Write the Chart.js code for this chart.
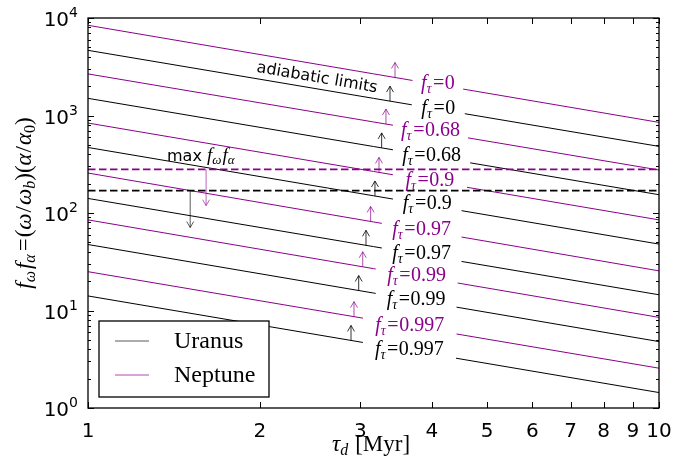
<!DOCTYPE html>
<html>
<head>
<meta charset="utf-8">
<script src="https://cdn.jsdelivr.net/npm/chart.js@4.4.1/dist/chart.umd.min.js"></script>
<style>
  html, body { margin: 0; padding: 0; background: #fff; }
  canvas { display: block; }
</style>
</head>
<body>
<canvas id="tauChart" width="688" height="464"></canvas>
<script>
const fTau = ["0", "0.68", "0.9", "0.97", "0.99", "0.997"];
const tauEnds = [1, 10];
const uranusStart = [4660, 1500, 470, 141, 47.5, 14.1];
const uranusEnd = [482, 154, 48, 14.5, 4.8, 1.44];
const neptuneStart = [8420, 2670, 837, 257, 85, 25];
const neptuneEnd = [850, 276, 85, 25.5, 8.5, 2.56];
// each line is broken where its label sits
const uranusGap = [[3.69, 4.57], [3.42, 4.67], [3.42, 4.51], [3.27, 4.51], [3.19, 4.42], [3.03, 4.41]];
const neptuneGap = [[3.70, 4.54], [3.42, 4.63], [3.42, 4.61], [3.27, 4.51], [3.19, 4.44], [3.03, 4.42]];
// adiabatic limit arrows, tau where they leave each line
const uranusArrowTau = [3.38, 3.268, 3.181, 3.068, 2.979, 2.888];
const neptuneArrowTau = [3.449, 3.325, 3.233, 3.126, 3.028, 2.923];
const maxUranus = 170;
const maxNeptune = 280;
const maxArrowTau = [1.51, 1.61];
const maxArrowEnd = [71, 119];
const xTicks = [1, 2, 3, 4, 5, 6, 7, 8, 9, 10];
const yDecades = [0, 1, 2, 3, 4];

const BLACK = "#000000";
const PURPLE = "#8b008b";
const SERIF = '"Liberation Serif", "Times New Roman", serif';
const SANS = '"DejaVu Sans", sans-serif';

const lineSet = (start, end, gap, color, name, i, arrowTau) => ({
  label: name,
  data: [{ x: tauEnds[0], y: start }, { x: tauEnds[1], y: end }],
  borderColor: color,
  borderWidth: 1,
  pointRadius: 0,
  tension: 0,
  gap: gap,
  tag: fTau[i],
  arrowTau: arrowTau,
});

const datasets = [];
for (let i = 0; i < fTau.length; i++) {
  datasets.push(lineSet(neptuneStart[i], neptuneEnd[i], neptuneGap[i], PURPLE, "Neptune", i, neptuneArrowTau[i]));
  datasets.push(lineSet(uranusStart[i], uranusEnd[i], uranusGap[i], BLACK, "Uranus", i, uranusArrowTau[i]));
}
datasets.push({
  label: "max Neptune",
  data: [{ x: 1, y: maxNeptune }, { x: 10, y: maxNeptune }],
  borderColor: PURPLE, borderWidth: 1.8, borderDash: [7.5, 3.5], pointRadius: 0, order: -1,
});
datasets.push({
  label: "max Uranus",
  data: [{ x: 1, y: maxUranus }, { x: 10, y: maxUranus }],
  borderColor: BLACK, borderWidth: 1.8, borderDash: [7.5, 3.5], pointRadius: 0, order: -1,
});

// draw a run of pieces: [text, size, italic, dy, family, gapAfter]
function mathWidth(ctx, parts) {
  let w = 0;
  for (const p of parts) {
    ctx.font = (p[2] ? "italic " : "") + p[1] + "px " + (p[4] || SERIF);
    w += ctx.measureText(p[0]).width + (p[5] || 0);
  }
  return w;
}
function drawMath(ctx, parts, x, y, align) {
  let cx = x;
  const w = mathWidth(ctx, parts);
  if (align === "center") cx = x - w / 2;
  ctx.textAlign = "left";
  ctx.textBaseline = "alphabetic";
  for (const p of parts) {
    ctx.font = (p[2] ? "italic " : "") + p[1] + "px " + (p[4] || SERIF);
    ctx.fillText(p[0], cx, y + (p[3] || 0));
    cx += ctx.measureText(p[0]).width + (p[5] || 0);
  }
}

function arrow(ctx, x, y0, y1, color) {
  const dir = y1 < y0 ? 1 : -1;
  ctx.strokeStyle = color;
  ctx.lineWidth = 1;
  ctx.beginPath();
  ctx.moveTo(x, y0);
  ctx.lineTo(x, y1);
  ctx.moveTo(x - 3.5, y1 + dir * 6);
  ctx.lineTo(x, y1);
  ctx.lineTo(x + 3.5, y1 + dir * 6);
  ctx.stroke();
}

function lineY(meta, px) {
  const a = meta.data[0], b = meta.data[1];
  return a.y + (px - a.x) * (b.y - a.y) / (b.x - a.x);
}

const decorations = {
  id: "decorations",
  beforeDatasetDraw(chart, args) {
    const ds = chart.data.datasets[args.index];
    if (!ds.gap) return;
    const xs = chart.scales.x;
    const g0 = xs.getPixelForValue(ds.gap[0]);
    const g1 = xs.getPixelForValue(ds.gap[1]);
    const ctx = chart.ctx;
    ctx.save();
    ctx.beginPath();
    ctx.rect(0, 0, chart.width, chart.height);
    ctx.rect(g0, 0, g1 - g0, chart.height);
    ctx.clip("evenodd");
  },
  afterDatasetDraw(chart, args) {
    if (chart.data.datasets[args.index].gap) chart.ctx.restore();
  },
  afterDatasetsDraw(chart) {
    const ctx = chart.ctx;
    const xs = chart.scales.x, ys = chart.scales.y;
    ctx.save();
    chart.data.datasets.forEach((ds, i) => {
      if (!ds.gap) return;
      const meta = chart.getDatasetMeta(i);
      const g0 = xs.getPixelForValue(ds.gap[0]);
      const g1 = xs.getPixelForValue(ds.gap[1]);
      const cx = (g0 + g1) / 2;
      const cy = lineY(meta, cx);
      ctx.fillStyle = ds.borderColor;
      drawMath(ctx, [
        ["f", 20, true, 0, null, 0],
        ["\u03c4", 14, true, 4, null, 1.5],
        ["=", 20, false, 0, null, 0.5],
        [ds.tag, 20, false, 0],
      ], cx, cy + 4.5, "center");
      const ax = xs.getPixelForValue(ds.arrowTau);
      const ay = lineY(meta, ax);
      const col = ds.borderColor === PURPLE ? "rgba(139,0,139,0.7)" : "rgba(0,0,0,0.8)";
      arrow(ctx, ax, ay, ay - 15, col);
    });

    // max f_w f_a arrows
    arrow(ctx, xs.getPixelForValue(maxArrowTau[0]), ys.getPixelForValue(maxUranus),
      ys.getPixelForValue(maxArrowEnd[0]), "rgba(0,0,0,0.65)");
    arrow(ctx, xs.getPixelForValue(maxArrowTau[1]), ys.getPixelForValue(maxNeptune),
      ys.getPixelForValue(maxArrowEnd[1]), "rgba(139,0,139,0.6)");
    ctx.fillStyle = BLACK;
    drawMath(ctx, [
      ["max ", 16, false, 0, SANS, 0],
      ["f", 19, true, 0, null, 0],
      ["\u03c9", 13, true, 3, null, 1],
      ["f", 19, true, 0, null, 0],
      ["\u03b1", 13, true, 3, null, 0],
    ], 167, 161, "left");

    // adiabatic limits, along the line slope
    const ang = Math.atan2(ys.getPixelForValue(1) - ys.getPixelForValue(10), xs.getPixelForValue(10) - xs.getPixelForValue(1));
    ctx.save();
    ctx.translate(317, 78);
    ctx.rotate(ang);
    ctx.font = "16px " + SANS;
    ctx.textAlign = "center";
    ctx.textBaseline = "middle";
    ctx.fillText("adiabatic limits", 0, 0);
    ctx.restore();
    ctx.restore();
  },
  afterDraw(chart) {
    const ctx = chart.ctx;
    const a = chart.chartArea;
    const xs = chart.scales.x, ys = chart.scales.y;
    ctx.save();
    // ticks, inward on all sides
    ctx.strokeStyle = "#000";
    ctx.lineWidth = 1;
    ctx.beginPath();
    xTicks.forEach((v) => {
      const px = Math.round(xs.getPixelForValue(v)) + 0.5;
      ctx.moveTo(px, a.bottom); ctx.lineTo(px, a.bottom - 6);
      ctx.moveTo(px, a.top); ctx.lineTo(px, a.top + 6);
    });
    yDecades.forEach((d) => {
      for (let m = 1; m <= 9; m++) {
        const v = m * Math.pow(10, d);
        if (v > 10000) break;
        const py = Math.round(ys.getPixelForValue(v)) + 0.5;
        const len = m === 1 ? 6 : 3;
        ctx.moveTo(a.left, py); ctx.lineTo(a.left + len, py);
        ctx.moveTo(a.right, py); ctx.lineTo(a.right - len, py);
      }
    });
    ctx.stroke();
    // frame
    ctx.lineWidth = 1.3;
    ctx.strokeRect(a.left, a.top, a.right - a.left, a.bottom - a.top);

    // y tick labels 10^k
    ctx.fillStyle = "#000";
    yDecades.forEach((d) => {
      const py = ys.getPixelForValue(Math.pow(10, d));
      ctx.font = "14px " + SANS;
      const ew = ctx.measureText(String(d)).width;
      ctx.textAlign = "right";
      ctx.textBaseline = "alphabetic";
      ctx.fillText(String(d), 78, py - 1);
      ctx.font = "20px " + SANS;
      ctx.fillText("10", 78 - ew, py + 8);
    });

    // axis titles
    drawMath(ctx, [
      ["\u03c4", 23, true, 0, null, 0],
      ["d", 16, true, 4, null, 7],
      ["[Myr]", 23, false, 0],
    ], 371, 451, "center");
    ctx.save();
    ctx.translate(31, 203);
    ctx.rotate(-Math.PI / 2);
    drawMath(ctx, [
      ["f", 23, true, 0, null, 0],
      ["\u03c9", 16, true, 4, null, 2],
      ["f", 23, true, 0, null, 0],
      ["\u03b1", 16, true, 4, null, 3],
      ["=", 23, false, 0, null, 1],
      ["(", 23, false, 0, null, 0],
      ["\u03c9", 23, true, 0, null, 1],
      ["/", 23, false, 0, null, 1],
      ["\u03c9", 23, true, 0, null, 0],
      ["b", 16, true, 4, null, 0],
      [")(", 23, false, 0, null, 0],
      ["\u03b1", 23, true, 0, null, 1],
      ["/", 23, false, 0, null, 1],
      ["\u03b1", 23, true, 0, null, 0],
      ["0", 16, false, 4, null, 0],
      [")", 23, false, 0],
    ], 0, 0, "center");
    ctx.restore();

    // legend
    const lx = a.left + 11, ly = a.bottom - 87;
    ctx.fillStyle = "#fff";
    ctx.fillRect(lx, ly, 170, 76);
    ctx.strokeStyle = "#000";
    ctx.lineWidth = 1.3;
    ctx.strokeRect(lx, ly, 170, 76);
    [["Uranus", "rgba(0,0,0,0.65)"], ["Neptune", "rgba(139,0,139,0.7)"]].forEach((it, k) => {
      const yy = ly + 20 + k * 34;
      ctx.strokeStyle = it[1];
      ctx.lineWidth = 1;
      ctx.beginPath();
      ctx.moveTo(lx + 16, yy); ctx.lineTo(lx + 50, yy);
      ctx.stroke();
      ctx.fillStyle = "#000";
      ctx.font = "24px " + SERIF;
      ctx.textAlign = "left";
      ctx.textBaseline = "middle";
      ctx.fillText(it[0], lx + 75, yy + 1);
    });
    ctx.restore();
  },
};

new Chart(document.getElementById("tauChart"), {
  type: "line",
  data: { datasets: datasets },
  options: {
    responsive: false,
    animation: false,
    layout: { padding: { top: 18, right: 29, left: 0, bottom: 0 } },
    plugins: { legend: { display: false }, tooltip: { enabled: false } },
    scales: {
      x: {
        type: "logarithmic",
        min: 1,
        max: 10,
        grid: { display: false },
        border: { display: false },
        afterBuildTicks: (s) => { s.ticks = xTicks.map((v) => ({ value: v })); },
        afterFit: (s) => { s.height = 56; },
        ticks: {
          autoSkip: false,
          maxRotation: 0,
          minRotation: 0,
          padding: 4,
          color: "#000",
          font: { family: "DejaVu Sans", size: 20 },
          callback: (v) => String(Math.round(v)),
        },
      },
      y: {
        type: "logarithmic",
        min: 1,
        max: 10000,
        grid: { display: false },
        border: { display: false },
        ticks: { display: false },
        afterFit: (s) => { s.width = 88; },
      },
    },
  },
  plugins: [decorations],
});
</script>
</body>
</html>
